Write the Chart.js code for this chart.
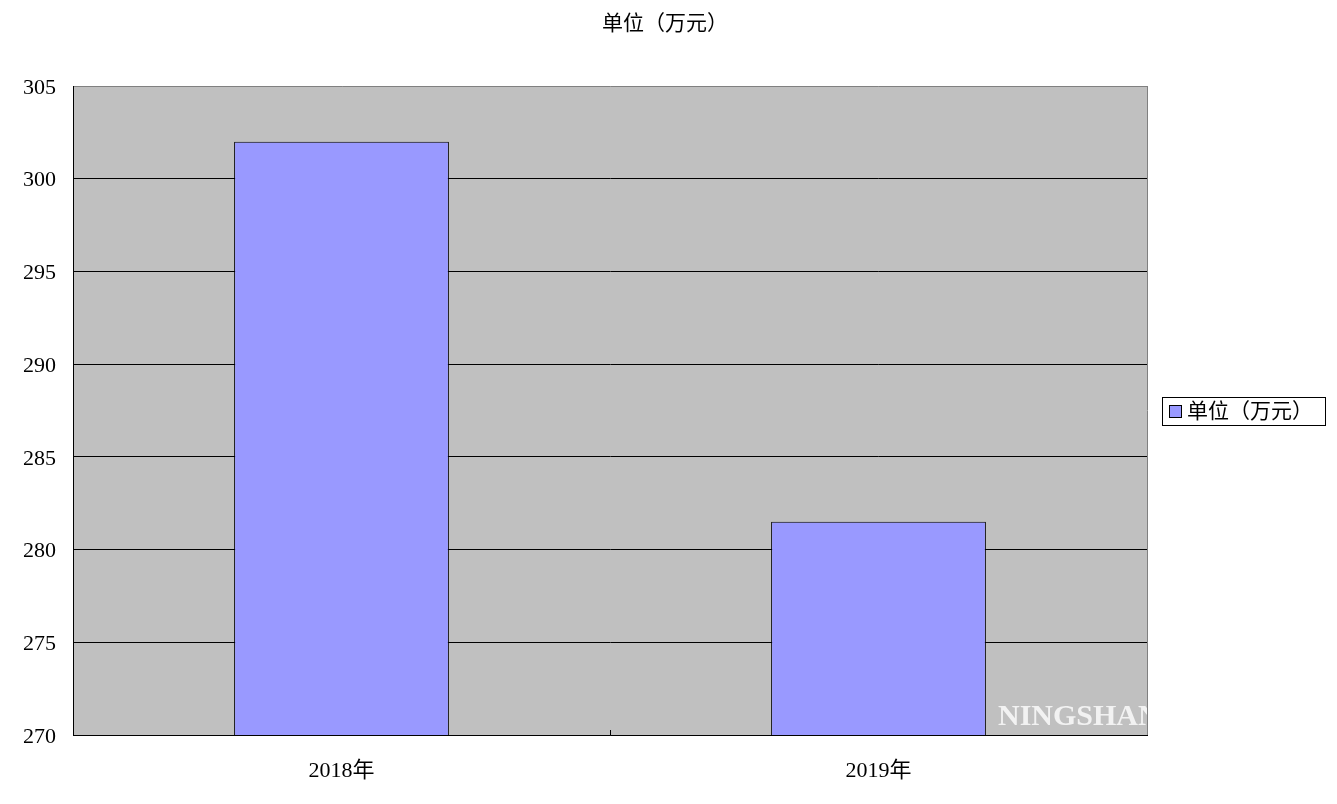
<!DOCTYPE html>
<html>
<head>
<meta charset="utf-8">
<script src="https://cdn.jsdelivr.net/npm/chart.js@4"></script>
<style>
  html, body { margin: 0; padding: 0; background: #fff; }
  #wrap { width: 1337px; height: 804px; }
</style>
</head>
<body>
<div id="wrap"><canvas id="myChart" width="1337" height="804"></canvas></div>
<script>
let categories = ['2018年', '2019年'];
let seriesName = '单位（万元）';
let seriesValues = [302, 281.5];
let yTicks = [270, 275, 280, 285, 290, 295, 300, 305];

let fontFam = "'Liberation Serif', 'Noto Sans CJK SC', serif";

// plot background, right border, middle tick, watermark, title and boxed legend
let extras = {
    id: 'extras',
    beforeDraw: (chart) => {
        let a = chart.chartArea;
        let c = chart.ctx;
        c.save();
        c.fillStyle = '#C0C0C0';
        c.fillRect(a.left, a.top, a.right - a.left, a.bottom - a.top);
        c.restore();
    },
    afterDatasetsDraw: (chart) => {
        let a = chart.chartArea;
        let c = chart.ctx;
        c.save();
        c.strokeStyle = '#808080';
        c.lineWidth = 1;
        c.beginPath();
        c.moveTo(a.right + 0.5, a.top);
        c.lineTo(a.right + 0.5, a.bottom);
        c.stroke();
        // category divider tick
        let xs = chart.scales.x;
        let mid = Math.round((xs.getPixelForValue(0) + xs.getPixelForValue(1)) / 2) + 0.5;
        c.strokeStyle = '#000';
        c.beginPath();
        c.moveTo(mid, a.bottom - 5);
        c.lineTo(mid, a.bottom);
        c.stroke();
        // watermark
        c.beginPath();
        c.rect(a.left, a.top, a.right - a.left, a.bottom - a.top);
        c.clip();
        c.fillStyle = '#F2F2F2';
        c.font = "bold 30px 'Liberation Serif', serif";
        c.textBaseline = 'alphabetic';
        c.textAlign = 'left';
        c.fillText('NINGSHAN', 998, 725);
        c.restore();

        // title
        c.save();
        c.fillStyle = '#000';
        c.font = '21px ' + fontFam;
        c.textAlign = 'center';
        c.textBaseline = 'middle';
        c.fillText(chart.data.datasets[0].label, 665, 24);
        c.restore();

        // legend
        c.save();
        c.fillStyle = '#fff';
        c.fillRect(1162, 397, 163, 28);
        c.strokeStyle = '#000';
        c.lineWidth = 1;
        c.strokeRect(1162.5, 397.5, 163, 28);
        c.fillStyle = '#9999FF';
        c.fillRect(1169, 405, 13, 13);
        c.strokeRect(1169.5, 405.5, 12, 12);
        c.fillStyle = '#000';
        c.font = '21px ' + fontFam;
        c.textBaseline = 'middle';
        c.fillText(chart.data.datasets[0].label, 1187, 412);
        c.restore();
    }
};

let ctx = document.getElementById('myChart').getContext('2d');
let chart = new Chart(ctx, {
    type: 'bar',
    data: {
        labels: categories,
        datasets: [{
            label: seriesName,
            backgroundColor: '#9999FF',
            borderColor: '#000',
            borderWidth: 1,
            barPercentage: 0.4,
            categoryPercentage: 1.0,
            data: seriesValues,
        }]
    },
    options: {
        responsive: false,
        animation: false,
        layout: { padding: { left: 0, right: 190, top: 86, bottom: 0 } },
        plugins: {
            legend: { display: false },
            tooltip: { enabled: false },
            title: { display: false }
        },
        scales: {
            x: {
                grid: { display: false, drawTicks: false },
                border: { color: '#000', width: 1 },
                ticks: { color: '#000', padding: 23, font: { family: fontFam, size: 22 } },
                afterFit: (s) => { s.height = 69; }
            },
            y: {
                min: yTicks[0],
                max: yTicks[yTicks.length - 1],
                afterBuildTicks: (s) => { s.ticks = yTicks.map(v => ({ value: v })); },
                grid: {
                    drawTicks: false,
                    color: (c) => c.tick && c.tick.value === 305 ? '#808080' : '#000',
                    lineWidth: 1
                },
                border: { color: '#000', width: 1 },
                ticks: { color: '#000', padding: 17, labelOffset: 2, font: { family: fontFam, size: 22 } },
                afterFit: (s) => { s.width = 73; }
            }
        }
    },
    plugins: [extras]
});
</script>
</body>
</html>
